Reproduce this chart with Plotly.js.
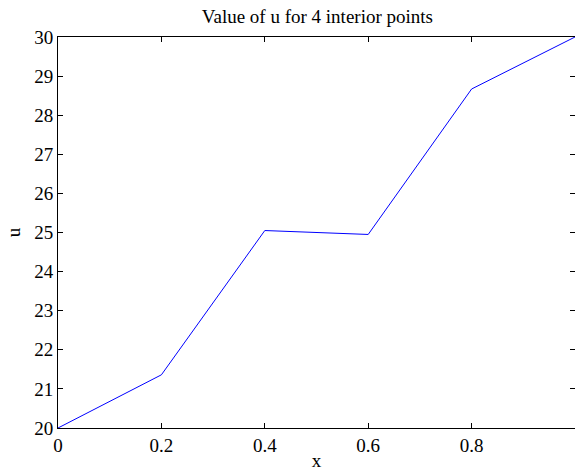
<!DOCTYPE html>
<html>
<head>
<meta charset="utf-8">
<script src="https://cdn.plot.ly/plotly-3.0.1.min.js"></script>
<style>html,body{margin:0;padding:0;background:#fff;}#chart{width:575px;height:471px;}</style>
</head>
<body>
<div id="chart"></div>
<script>
var xValues = [0, 0.2, 0.4, 0.6, 0.8, 1.0];
var uValues = [20, 21.36, 25.05, 24.95, 28.67, 30];
var xTickVals = [0, 0.2, 0.4, 0.6, 0.8];
var xTickText = ['0', '0.2', '0.4', '0.6', '0.8'];
var yTickVals = [20, 21, 22, 23, 24, 25, 26, 27, 28, 29, 30];

var FAM = 'Liberation Serif';

Plotly.newPlot('chart', [{
  x: xValues, y: uValues, type: 'scatter', mode: 'lines',
  line: {color: '#0000ff', width: 1}, hoverinfo: 'none'
}], {
  width: 575, height: 471,
  margin: {l: 58, r: 0, t: 37, b: 43},
  paper_bgcolor: '#fff', plot_bgcolor: '#fff',
  showlegend: false,
  font: {family: FAM, size: 19, color: '#000'},
  title: {text: 'Value of u for 4 interior points', font: {family: FAM, size: 19, color: '#000'}, x: 0.552, xanchor: 'center', y: 0.966, yanchor: 'middle'},
  xaxis: {
    range: [0, 1], tickvals: xTickVals, ticktext: xTickText,
    ticks: 'inside', ticklen: 5, tickcolor: '#000', tickwidth: 1,
    showline: true, linecolor: '#000', linewidth: 1, mirror: 'ticks',
    showgrid: false, zeroline: false,
    tickfont: {family: FAM, size: 19, color: '#000'},
    title: {text: 'x', font: {family: FAM, size: 19, color: '#000'}, standoff: 0}
  },
  yaxis: {
    range: [20, 30], tickvals: yTickVals,
    ticks: 'inside', ticklen: 5, tickcolor: '#000', tickwidth: 1,
    showline: true, linecolor: '#000', linewidth: 1, mirror: 'ticks',
    showgrid: false, zeroline: false,
    tickfont: {family: FAM, size: 19, color: '#000'},
    title: {text: 'u', font: {family: FAM, size: 19, color: '#000'}, standoff: 8}
  }
}, {staticPlot: true});
</script>
</body>
</html>
